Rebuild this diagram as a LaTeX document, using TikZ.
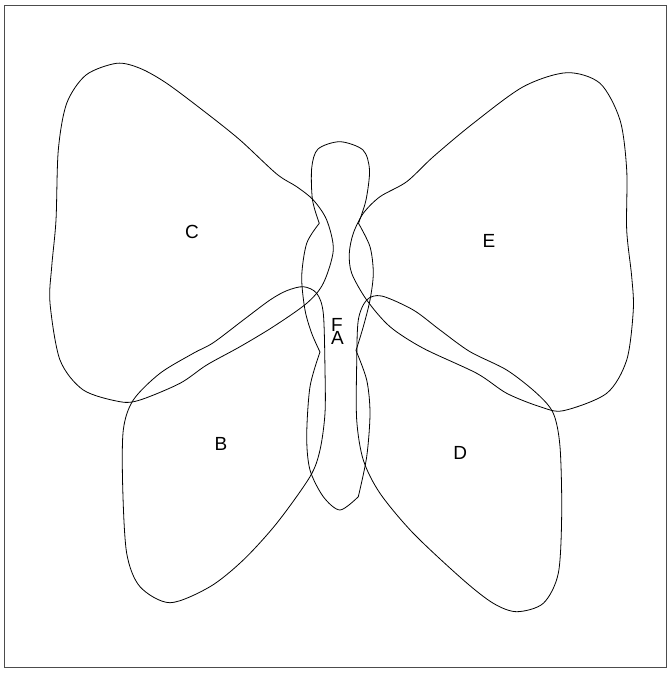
\documentclass[tikz,border=0pt]{standalone}
\usepackage{fontspec}
\setmainfont{Liberation Sans}
\usetikzlibrary{positioning}

\tikzset{
  setline/.style={black, line width=0.8pt, line join=round},
  setlabel/.style={font=\fontsize{19}{22}\selectfont, inner sep=0pt},
  frameline/.style={black!70, line width=1pt}
}

\begin{document}
\begin{tikzpicture}[x=1pt, y=-1pt]
            \useasboundingbox (0,0) rectangle (668,675);
            \draw[frameline] (4,5) rectangle (666,667);
            % Upper wings
            \draw[setline] plot[smooth cycle] coordinates {
                (116.7,63.3) (140,68.3) (166.7,83.3) (206.7,113.3) (240,140) (276.7,174)
                (296.7,186.7) (313.3,200) (326.7,220) (333.3,250) (323.3,283.3) (306.7,303.3)
                (273.3,326.7) (240,346.7) (206.7,365) (180,383.3) (140,400) (120,401.7)
                (83.3,390) (60,360) (50,303) (51.7,266.7) (56,220) (58.3,150) (66.7,103.3) (86,75)};
            \draw[setline] plot[smooth cycle] coordinates {
                (566.7,72.7) (600,83.3) (620,120) (626.7,170) (626.7,230) (631.7,276.7)
                (633.3,310) (626.7,360) (606.7,393.3) (563.3,410.7) (540,406.7) (506.7,393.3)
                (476.7,373.3) (423.3,348.3) (390,326.7) (366.7,300) (351.7,273.3) (349.3,253.3)
                (353.3,233.3) (363.3,213.3) (380,196.7) (406.7,181.7) (433.3,156.7) (473.3,123.3) (523.3,86.7)};
            % Lower wings
            \draw[setline] plot[smooth cycle] coordinates {
                (303.3,286.7) (316.7,293.3) (323.3,313.3) (325,370) (325,413.3) (320,450)
                (310,476.7) (276.7,523.3) (243.3,560) (210,586.7) (170,602.7) (140,586.7)
                (126.7,553.3) (122.7,486.7) (123.3,430) (133.3,400) (160,373.3) (193.3,353.3)
                (213.3,342.7) (243.3,320) (270,300) (286.7,290.7)};
            \draw[setline] plot[smooth cycle] coordinates {
                (381.7,296) (413.3,310) (440,330) (470,351.7) (506.7,370) (536.7,393.3)
                (553.3,413.3) (560,446.7) (561.7,513.3) (558.3,573.3) (543.3,603.3) (516.7,611.7)
                (493.3,603.3) (463.3,580) (413.3,533.3) (380,493.3) (363.3,460) (356.7,420)
                (356.7,363.3) (358.3,320) (366.7,300)};
            % Body, with its corners
            \draw[setline]
                plot[smooth] coordinates {(358.5,223.3) (366,200) (369.5,170) (363,150)
                    (340,141.7) (318,149) (311.7,168) (312.5,200) (319.3,223.3)}
                -- plot[smooth] coordinates {(319.3,223.3) (306.7,243.3) (301.7,276.7)
                    (305,310) (311.7,333.3) (320,352)}
                -- plot[smooth] coordinates {(320,352) (310,386.7) (306.7,436.7) (310,470)
                    (323.3,496.7) (340,510) (358.3,496.7)}
                -- plot[smooth] coordinates {(358.3,496.7) (366.7,456.7) (370,413.3)
                    (366.7,380) (356,350.5)}
                -- plot[smooth] coordinates {(356,350.5) (363.3,326.7) (370,300)
                    (373.3,273.3) (370,246.7) (358.5,223.3)}
                -- cycle;
            % Set names
            \node[setlabel] (labC) at (192,232) {C};
            \node[setlabel] (labE) at (489,241) {E};
            \node[setlabel] (labB) at (221,443.5) {B};
            \node[setlabel] (labD) at (460.3,453) {D};
            \node[setlabel] (labF) at (337,325) {F};
            \node[setlabel] (labA) at (337.5,338) {A};
        \end{tikzpicture}
\end{document}
